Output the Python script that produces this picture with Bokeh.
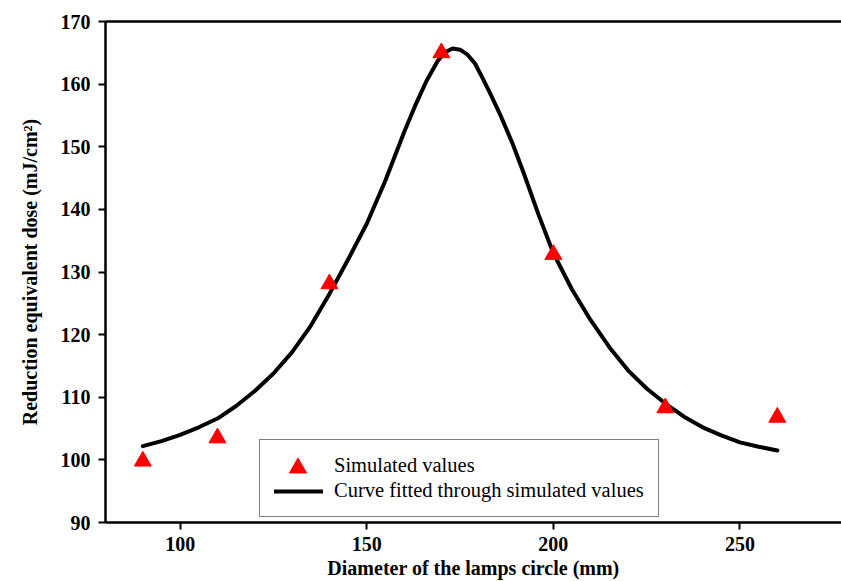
from bokeh.plotting import figure
from bokeh.models import (Range1d, FixedTicker, LinearAxis, Legend, LegendItem)
from bokeh.embed import file_html
from bokeh.resources import INLINE

# Simulated dose at each lamp-circle diameter
diameter_mm = [90, 110, 140, 170, 200, 230, 260]
dose_sim = [99.8, 103.5, 128.1, 165.0, 132.8, 108.3, 106.8]

# Fitted curve through the simulated values
fit_x = [90, 95, 100, 105, 110, 115, 120, 125, 130, 135, 140, 145, 150, 155,
         160, 163, 166, 169, 171, 173, 175, 177, 179, 181, 183, 186, 189,
         192, 196, 200, 205, 210, 215, 220, 225, 230, 235, 240, 245, 250,
         255, 260]
fit_y = [102.2, 103.0, 104.0, 105.2, 106.6, 108.6, 111.0, 113.8, 117.2,
         121.4, 126.5, 132.0, 137.7, 144.6, 152.3, 156.6, 160.5, 163.7,
         165.1, 165.7, 165.5, 164.7, 163.3, 161.0, 158.6, 154.8, 150.6,
         145.9, 139.2, 133.0, 127.2, 122.3, 118.0, 114.3, 111.4, 109.0,
         106.9, 105.2, 103.9, 102.8, 102.1, 101.5]

x_ticks = [100, 150, 200, 250]
y_ticks = [90, 100, 110, 120, 130, 140, 150, 160, 170]

SERIF = "Liberation Serif"

p = figure(width=841, height=581, output_backend="svg", toolbar_location=None,
           x_range=Range1d(80, 277.2), y_range=Range1d(90, 170),
           min_border_left=105, min_border_right=0, min_border_top=21,
           min_border_bottom=59)
p.outline_line_color = None
p.grid.visible = False
p.background_fill_color = "white"
p.border_fill_color = "white"

for ax, ticks in ((p.xaxis[0], x_ticks), (p.yaxis[0], y_ticks)):
    ax.ticker = FixedTicker(ticks=ticks)
    ax.axis_line_width = 2.5
    ax.axis_line_color = "black"
    ax.major_tick_line_width = 2
    ax.major_tick_in = 0
    ax.major_tick_out = 7
    ax.minor_tick_out = 0
    ax.minor_tick_in = 0
    ax.major_label_text_font = SERIF
    ax.major_label_text_font_style = "bold"
    ax.major_label_text_font_size = "20px"
    ax.major_label_text_color = "black"
    ax.axis_label_text_font = SERIF
    ax.axis_label_text_font_style = "bold"
    ax.axis_label_text_font_size = "20px"
    ax.axis_label_text_color = "black"

p.xaxis.axis_label = "Diameter of the lamps circle (mm)"
p.xaxis.major_label_standoff = 7
p.xaxis.axis_label_standoff = 3
p.yaxis.axis_label = "Reduction equivalent dose (mJ/cm²)"
p.yaxis.major_label_standoff = 8
p.yaxis.axis_label_standoff = 17

# top border line of the frame
top = LinearAxis(ticker=FixedTicker(ticks=[]), axis_line_width=2.5,
                 major_tick_out=0, minor_tick_out=0,
                 major_label_text_font_size="0px")
p.add_layout(top, "above")

line = p.line(fit_x, fit_y, line_color="black", line_width=4,
              line_join="round", line_cap="round")
pts = p.scatter(diameter_mm, dose_sim, marker="triangle", size=17,
                fill_color="#ff0000", line_color="#ff0000")

# boxed legend with both entries
legend = Legend(items=[LegendItem(label="Simulated values", renderers=[pts]),
                       LegendItem(label="Curve fitted through simulated values",
                                  renderers=[line])],
                location=(154, 5), margin=0, padding=14, spacing=2,
                glyph_width=49, glyph_height=20, label_height=20,
                label_standoff=11, label_text_font=SERIF,
                label_text_font_size="20.5px", label_text_color="black",
                border_line_color="black", border_line_width=1,
                background_fill_color="white", background_fill_alpha=1)
p.add_layout(legend, "center")

# full-size marker swatch drawn over the small legend triangle
swatch = Legend(items=[LegendItem(label="", renderers=[pts])],
                location=(170.5, 33.5), margin=0, padding=0, spacing=0,
                glyph_width=43, glyph_height=43, label_standoff=0,
                label_text_font_size="1px", border_line_color=None,
                background_fill_alpha=0)
p.add_layout(swatch, "center")

open("out.html", "w").write(file_html(p, INLINE))
